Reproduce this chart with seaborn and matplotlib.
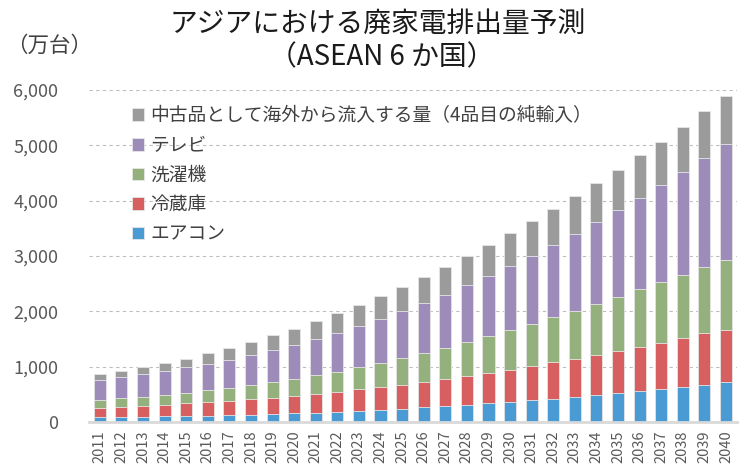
import seaborn as sns
import matplotlib.pyplot as plt
import matplotlib.ticker as mticker
import numpy as np
import pandas as pd

years = [str(y) for y in range(2011, 2041)]

# 万台, segment values
aircon = [85, 91, 97, 103, 109, 115, 127, 133, 145, 157, 169, 181, 199, 223, 238,
          265, 284, 302, 338, 363, 393, 423, 453, 489, 526, 562, 598, 640, 677, 728]
fridge = [169, 181, 193, 205, 229, 241, 260, 278, 295, 319, 337, 367, 391, 416, 441,
          465, 495, 538, 550, 586, 616, 659, 689, 726, 755, 798, 840, 871, 924, 945]
washer = [151, 163, 169, 187, 194, 218, 229, 254, 277, 301, 337, 362, 398, 427, 476,
          516, 562, 604, 665, 713, 767, 815, 864, 924, 979, 1045, 1094, 1154, 1209, 1263]
tv = [356, 381, 405, 429, 459, 477, 508, 543, 578, 609, 651, 692, 741, 795, 845,
      902, 961, 1027, 1081, 1154, 1233, 1299, 1396, 1468, 1571, 1649, 1756, 1856, 1965, 2082]
used = [109, 108, 133, 145, 157, 194, 211, 242, 271, 301, 325, 362, 391, 410, 444,
        476, 508, 532, 568, 598, 616, 647, 677, 709, 729, 766, 778, 811, 841, 876]

labels = ["中古品として海外から流入する量（4品目の純輸入）", "テレビ", "洗濯機", "冷蔵庫", "エアコン"]
colors = ["#9b9b9b", "#9d8bb9", "#93b07d", "#d85f5f", "#4a9bd4"]

df = pd.DataFrame({"year": years, "エアコン": aircon, "冷蔵庫": fridge,
                   "洗濯機": washer, "テレビ": tv, labels[0]: used})

sns.set_style("white")
plt.rcParams['font.family'] = ['Noto Sans CJK JP', 'DejaVu Sans']

fig = plt.figure(figsize=(7.48, 4.69), dpi=100)
ax = fig.add_axes([0.119, 0.100, 0.866, 0.708])

# stacked bars: draw cumulative totals from the top series down
stack_order = ["エアコン", "冷蔵庫", "洗濯機", "テレビ", labels[0]]
cum = df[stack_order].cumsum(axis=1)
for name, col in zip(labels, colors):
    sns.barplot(x=df["year"], y=cum[name], color=col, width=0.56, ax=ax,
                label=name, saturation=1, edgecolor="#e6e6e6", linewidth=0.6)

ax.set_ylim(0, 6000)
ax.set_xlim(-0.5, len(years) - 0.5)
ax.yaxis.set_major_locator(mticker.MultipleLocator(1000))
ax.yaxis.set_major_formatter(mticker.StrMethodFormatter("{x:,.0f}"))
ax.grid(axis="y", color="#bdbdbd", linestyle=(0, (3, 3)), linewidth=0.8)
ax.set_axisbelow(True)
for s in ["left", "right", "top"]:
    ax.spines[s].set_visible(False)
ax.spines["bottom"].set_color("#d9d9d9")
ax.spines["bottom"].set_linewidth(2)
ax.tick_params(axis="both", length=0, colors="#595959")
ax.tick_params(axis="y", labelsize=13, pad=22)
ax.tick_params(axis="x", labelsize=10.5, rotation=90, pad=6)
ax.set_xlabel("")
ax.set_ylabel("")

leg = ax.legend(loc="upper left", bbox_to_anchor=(0.04, 1.005), frameon=False,
                fontsize=13.5, handlelength=0.65, handleheight=0.65,
                handletextpad=0.35, labelspacing=0.46, labelcolor="#404040")

fig.text(0.505, 0.949, "アジアにおける廃家電排出量予測", ha="center", va="center",
         fontsize=20, color="#1a1a1a")
fig.text(0.51, 0.877, "（ASEAN 6 か国）", ha="center", va="center",
         fontsize=20, color="#1a1a1a")
fig.text(0.008, 0.902, "（万台）", ha="left", va="center", fontsize=15.5, color="#404040")

fig.savefig("out.png", dpi=100)
